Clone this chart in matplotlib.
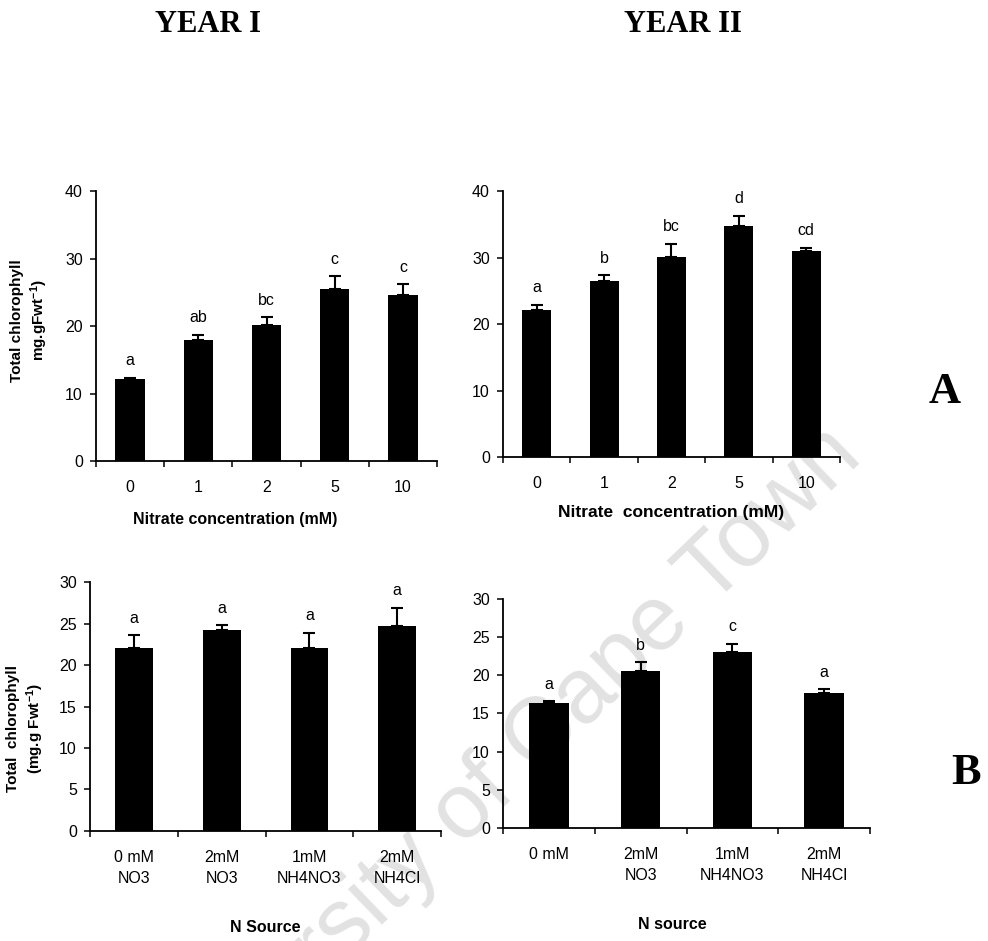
import numpy as np
import matplotlib
matplotlib.use("Agg")
import matplotlib.pyplot as plt

plt.rcParams['font.family'] = ['Liberation Sans', 'DejaVu Sans']
plt.rcParams['mathtext.default'] = 'regular'

# Year I / Year II, nitrate concentration (panel A)
conc_labels = ['0', '1', '2', '5', '10']
y1_conc = [12.1, 17.9, 20.2, 25.5, 24.6]
y1_conc_err = [0.25, 0.8, 1.1, 1.9, 1.6]
y1_conc_sig = ['a', 'ab', 'bc', 'c', 'c']
y2_conc = [22.1, 26.5, 30.1, 34.8, 31.0]
y2_conc_err = [0.8, 0.8, 2.0, 1.45, 0.5]
y2_conc_sig = ['a', 'b', 'bc', 'd', 'cd']

# N source (panel B)
y1_src_labels = ['0 mM\nNO3', '2mM\nNO3', '1mM\nNH4NO3', '2mM\nNH4Cl']
y2_src_labels = ['0 mM', '2mM\nNO3', '1mM\nNH4NO3', '2mM\nNH4Cl']
y1_src = [22.0, 24.2, 22.0, 24.7]
y1_src_err = [1.6, 0.6, 1.9, 2.2]
y1_src_sig = ['a', 'a', 'a', 'a']
y2_src = [16.4, 20.5, 23.1, 17.7]
y2_src_err = [0.2, 1.2, 1.0, 0.5]
y2_src_sig = ['a', 'b', 'c', 'a']


def draw_panel(ax, labels, vals, errs, sig, ymax, ystep):
    x = np.arange(len(vals))
    ax.bar(x, vals, width=0.43, color='black', zorder=2)
    ax.errorbar(x, vals, yerr=[np.zeros(len(errs)), errs], fmt='none',
                ecolor='black', elinewidth=1.5, capsize=4, capthick=1.5, zorder=3)
    for xi, v, e, s in zip(x, vals, errs, sig):
        ax.annotate(s, (xi, v + e), xytext=(0, 9), textcoords='offset points',
                    ha='center', va='baseline', fontsize=11.5)
    ax.set_xlim(-0.5, len(vals) - 0.5)
    ax.set_ylim(0, ymax)
    ax.set_yticks(np.arange(0, ymax + 0.1, ystep))
    ax.set_xticks(np.arange(len(vals) + 1) - 0.5)
    ax.set_xticklabels([])
    ax.set_xticks(x, minor=True)
    ax.set_xticklabels(labels, minor=True, fontsize=11.5, linespacing=1.5)
    ax.tick_params(axis='x', which='major', direction='out', length=4.5, width=1.1)
    ax.tick_params(axis='x', which='minor', length=0, pad=14)
    ax.tick_params(axis='y', direction='out', length=4.5, width=1.1, labelsize=11.5, pad=5)
    for side in ['top', 'right']:
        ax.spines[side].set_visible(False)
    for side in ['left', 'bottom']:
        ax.spines[side].set_linewidth(1.3)
    ax.patch.set_alpha(0)


fig = plt.figure(figsize=(9.88, 9.41), dpi=100)

# watermark of the scanned thesis
fig.text(0.499, 0.166, 'University of Cape Town', rotation=44, rotation_mode='anchor',
         ha='center', va='center', fontsize=66, color='#e2e2e2', zorder=-1)

ax1 = fig.add_axes([0.0972, 0.5101, 0.3451, 0.2869])
ax2 = fig.add_axes([0.5091, 0.5143, 0.3411, 0.2827])
ax3 = fig.add_axes([0.0911, 0.1169, 0.3553, 0.2646])
ax4 = fig.add_axes([0.5091, 0.1201, 0.3715, 0.2434])

draw_panel(ax1, conc_labels, y1_conc, y1_conc_err, y1_conc_sig, 40, 10)
draw_panel(ax2, conc_labels, y2_conc, y2_conc_err, y2_conc_sig, 40, 10)
draw_panel(ax3, y1_src_labels, y1_src, y1_src_err, y1_src_sig, 30, 5)
draw_panel(ax4, y2_src_labels, y2_src, y2_src_err, y2_src_sig, 30, 5)

ax1.set_xlabel('Nitrate concentration (mM)', fontsize=11.5, fontweight='bold')
ax1.xaxis.set_label_coords(0.408, -0.19)
ax2.set_xlabel('Nitrate  concentration (mM)', fontsize=12.5, fontweight='bold')
ax2.xaxis.set_label_coords(0.499, -0.18)
ax3.set_xlabel('N Source', fontsize=11.5, fontweight='bold')
ax3.xaxis.set_label_coords(0.499, -0.357)
ax4.set_xlabel('N source', fontsize=11.5, fontweight='bold')
ax4.xaxis.set_label_coords(0.46, -0.389)

ax1.set_ylabel('Total chlorophyll\nmg.gFwt$^{-1}$)', fontsize=11, fontweight='bold',
               linespacing=1.3)
ax1.yaxis.set_label_coords(-0.135, 0.52)
ax3.set_ylabel('Total  chlorophyll\n(mg.g Fwt$^{-1}$)', fontsize=11, fontweight='bold',
               linespacing=1.3)
ax3.yaxis.set_label_coords(-0.125, 0.41)

fig.text(208 / 988, 1 - 24 / 941, 'YEAR I', family='Liberation Serif', fontweight='bold',
         fontsize=22, ha='center', va='center')
fig.text(683 / 988, 1 - 24 / 941, 'YEAR II', family='Liberation Serif', fontweight='bold',
         fontsize=22, ha='center', va='center')
fig.text(945 / 988, 1 - 392 / 941, 'A', family='Liberation Serif', fontweight='bold',
         fontsize=32, ha='center', va='center')
fig.text(966 / 988, 1 - 773 / 941, 'B', family='Liberation Serif', fontweight='bold',
         fontsize=32, ha='center', va='center')

fig.savefig('out.png', dpi=100)
